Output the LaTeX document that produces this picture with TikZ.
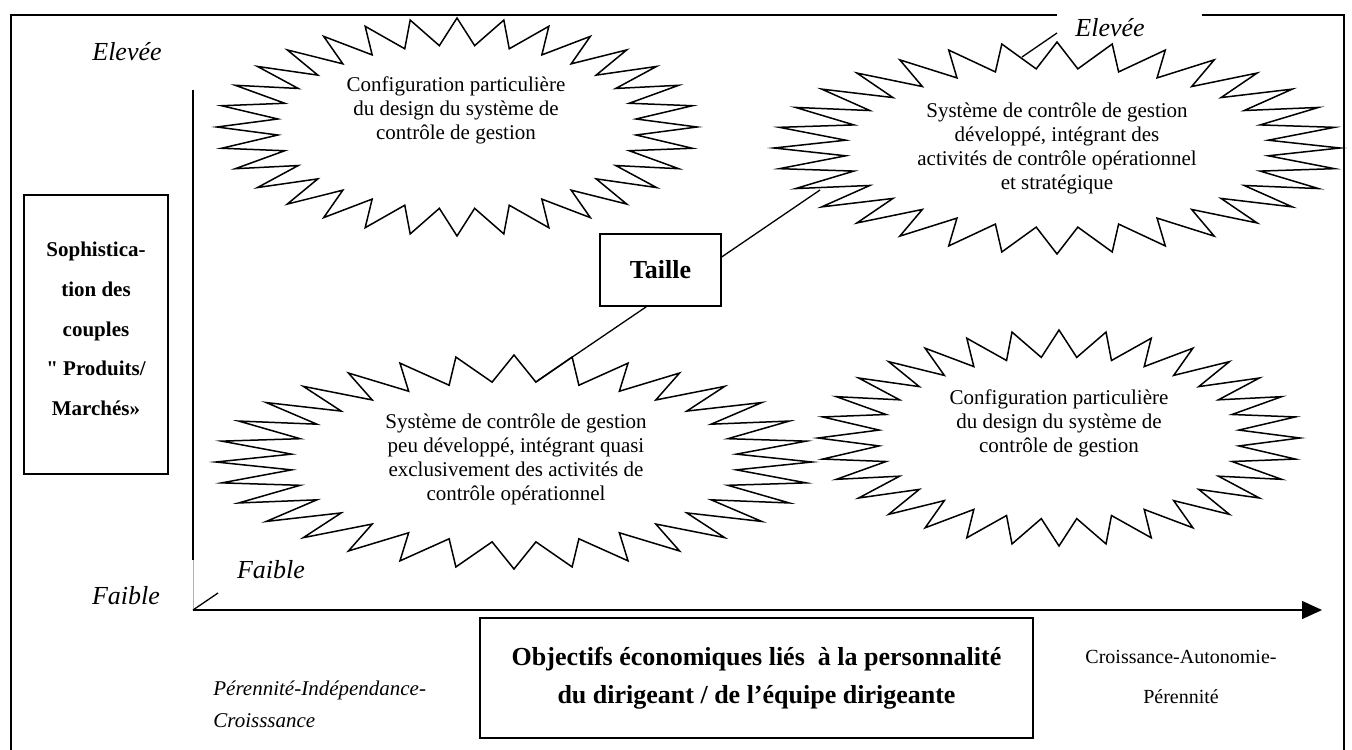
\documentclass[tikz,border=0pt]{standalone}
\usepackage{fontspec}
\setmainfont{Liberation Serif}
\newfontfamily\rawserif{Liberation Serif}
\usetikzlibrary{arrows.meta}
\newcommand\mkburst[4]{%
  \draw[burst] plot[samples at={0,1,...,63}, variable=\k]
    ({#1+(1-0.25*mod(\k,2))*#3*sin(\k*5.625)},
     {#2-(1-0.25*mod(\k,2))*#4*cos(\k*5.625)}) -- cycle;}
\begin{document}
\begin{tikzpicture}[x=0.5pt,y=-0.5pt,
  frame/.style={line width=0.9pt},
  burst/.style={draw=black, line width=0.75pt, fill=white, line join=miter},
  bursttext/.style={align=center, inner sep=0pt, font=\fontsize{10.5}{12}\selectfont},
  axisline/.style={line width=0.65pt},
  conn/.style={line width=0.65pt},
  boxnode/.style={draw, line width=0.65pt, inner sep=0pt},
  scale13/.style={inner sep=0pt, font=\itshape\fontsize{13}{15}\selectfont}]
\useasboundingbox (0,0) rectangle (1352,749);
% frame
\draw[frame] (1057,15) -- (11,15) -- (11,760);
\draw[frame] (1202,15) -- (1344,15) -- (1344,760);
% axes
\coordinate (ytop) at (193,90);
\coordinate (ymid) at (193,560);
\coordinate (orig) at (193,610);
\coordinate (xend) at (1322,610);
\coordinate (slash) at (218,593);
\draw[axisline] (ytop) -- (ymid);
\draw[gray!60, line width=0.4pt] (ymid) -- (orig);
\draw[axisline, -{Triangle[length=10pt,width=9pt]}] (orig) -- (xend);
\draw[axisline] (orig) -- (slash);
% starbursts
\mkburst{457}{127}{240}{109}
\mkburst{1057}{148}{283}{106}
\mkburst{514}{462}{298}{107}
\mkburst{1059}{438}{241}{108}
\node[bursttext] (tltext) at (456,110) {Configuration particulière\\du design du système de\\contrôle de gestion};
\node[bursttext] (trtext) at (1057,148) {Système de contrôle de gestion\\développé, intégrant des\\activités de contrôle opérationnel\\et stratégique};
\node[bursttext] (lltext) at (516,459) {Système de contrôle de gestion\\peu développé, intégrant quasi\\exclusivement des activités de\\contrôle opérationnel};
\node[bursttext] (lrtext) at (1059,423) {Configuration particulière\\du design du système de\\contrôle de gestion};
% axis labels
\node[scale13, anchor=base] (elevL) at (127,61) {Elevée};
\node[scale13, anchor=base] (elevR) at (1110,37) {Elevée};
\node[scale13, anchor=base] (faibleU) at (271,578) {Faible};
\node[scale13, anchor=base] (faibleL) at (126,604) {Faible};
% left box
\node[boxnode, minimum width=72pt, minimum height=139.5pt] (lbox) at (96,334.5) {};
\node[align=center, inner sep=0pt, font=\bfseries\fontsize{10.5}{19.8}\selectfont] (ltext) at (96,329) {Sophistica-\\tion des\\couples\\{\rawserif\bfseries "} Produits/\\Marchés»};
% Taille
\node[boxnode, minimum width=60.5pt, minimum height=36pt, font=\bfseries\fontsize{13}{15}\selectfont] (taille) at (660.5,270) {Taille};
\coordinate (trend) at (820,190);
\coordinate (llend) at (537,381);
\draw[conn] (taille.12) -- (trend);
\draw[conn] (taille.249) -- (llend);
\coordinate (segA) at (1022,57);
\coordinate (segB) at (1057,33);
\draw[conn] (segA) -- (segB);
% bottom
\node[boxnode, minimum width=276.5pt, minimum height=60pt, align=center, font=\bfseries\fontsize{13}{19}\selectfont] (obj) at (756.5,678) {Objectifs économiques liés~ à la personnalité\\du dirigeant / de l’équipe dirigeante};
\node[align=left, anchor=west, inner sep=0pt, font=\itshape\fontsize{10.5}{16}\selectfont] (perL) at (213,704) {Pérennité-Indépendance-\\Croisssance};
\node[align=center, inner sep=0pt, font=\fontsize{10}{20}\selectfont] (croisR) at (1181,677) {Croissance-Autonomie-\\Pérennité};
\end{tikzpicture}
\end{document}
